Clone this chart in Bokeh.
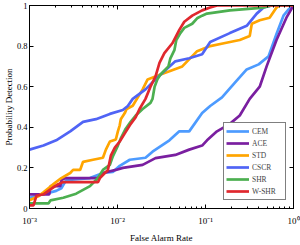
from bokeh.plotting import figure
from bokeh.models import (LogAxis, LinearAxis, FixedTicker, Legend, LegendItem,
                          Range1d)
from bokeh.embed import file_html
from bokeh.resources import INLINE

# ---- data (false alarm rate, probability of detection) ----
cem_x = [0.001, 0.00144, 0.00201, 0.0023, 0.00261, 0.00487, 0.00683, 0.00885, 0.0106, 0.0138,
         0.0208, 0.025, 0.0389, 0.0504, 0.0653, 0.0916, 0.113, 0.154, 0.216, 0.294, 0.402,
         0.521, 0.641, 0.769, 0.875, 1.0]
cem_y = [0.053, 0.07, 0.087, 0.10, 0.14, 0.15, 0.175, 0.18, 0.21, 0.24,
         0.25, 0.28, 0.336, 0.38, 0.38, 0.47, 0.505, 0.547, 0.62, 0.685, 0.71,
         0.75, 0.86, 0.95, 0.98, 1.0]

ace_x = [0.001, 0.00168, 0.00173, 0.00224, 0.0023, 0.00255, 0.006, 0.00683, 0.00957, 0.0115,
         0.0193, 0.027, 0.0454, 0.0653, 0.0916, 0.104, 0.135, 0.189, 0.245, 0.318, 0.413,
         0.495, 0.641, 0.831, 1.0]
ace_y = [0.07, 0.07, 0.11, 0.11, 0.14, 0.15, 0.15, 0.175, 0.19, 0.20,
         0.215, 0.248, 0.264, 0.29, 0.31, 0.336, 0.38, 0.417, 0.458, 0.54, 0.60,
         0.70, 0.83, 0.94, 1.0]

std_x = [0.001, 0.00126, 0.00144, 0.00164, 0.00187, 0.0023, 0.0029, 0.00313, 0.00376, 0.00406,
         0.00527, 0.00683, 0.00738, 0.00819, 0.00957, 0.0101, 0.0106, 0.0109, 0.0121, 0.0127,
         0.0149, 0.0193, 0.022, 0.0308, 0.0389, 0.0545, 0.0803, 0.113, 0.162, 0.245, 0.318,
         0.336, 0.413, 0.535, 0.641, 0.693, 1.0]
std_y = [0.04, 0.06, 0.08, 0.10, 0.12, 0.15, 0.175, 0.19, 0.19, 0.23,
         0.24, 0.25, 0.29, 0.33, 0.34, 0.38, 0.41, 0.44, 0.47, 0.49,
         0.506, 0.587, 0.636, 0.66, 0.676, 0.70, 0.775, 0.80, 0.814, 0.83, 0.85,
         0.91, 0.927, 0.94, 0.99, 1.0, 1.0]

cscr_x = [0.001, 0.00144, 0.00201, 0.0029, 0.00406, 0.00569, 0.00819, 0.0115, 0.0131, 0.0149,
          0.0208, 0.0284, 0.0454, 0.0653, 0.0916, 0.113, 0.189, 0.294, 0.382, 0.458, 0.564, 1.0]
cscr_y = [0.29, 0.31, 0.336, 0.38, 0.427, 0.44, 0.466, 0.485, 0.505, 0.54,
          0.587, 0.645, 0.725, 0.74, 0.76, 0.82, 0.864, 0.90, 0.96, 0.99, 1.0, 1.0]

shr_x = [0.001, 0.00164, 0.00173, 0.00242, 0.00339, 0.00487, 0.006, 0.00683, 0.00819, 0.00885,
         0.0101, 0.0109, 0.0124, 0.0141, 0.0161, 0.0193, 0.0237, 0.025, 0.0264, 0.0284, 0.0308,
         0.0379, 0.0399, 0.0443, 0.0466, 0.0518, 0.0574, 0.0707, 0.0803, 0.0916, 0.104, 0.189,
         0.458, 0.564, 1.0]
shr_y = [0.025, 0.025, 0.04, 0.053, 0.073, 0.11, 0.15, 0.19, 0.215, 0.257,
         0.31, 0.345, 0.393, 0.427, 0.458, 0.49, 0.52, 0.54, 0.60, 0.636, 0.66,
         0.70, 0.74, 0.78, 0.83, 0.864, 0.89, 0.91, 0.937, 0.95, 0.96, 0.976,
         0.99, 1.0, 1.0]

wshr_x = [0.001, 0.00111, 0.0012, 0.00144, 0.00173, 0.00212, 0.00242, 0.006, 0.00631, 0.00778,
          0.0084, 0.00933, 0.0106, 0.0121, 0.0138, 0.0161, 0.0178, 0.0208, 0.0237, 0.027, 0.03,
          0.0341, 0.042, 0.0504, 0.0574, 0.0707, 0.0916, 0.113, 0.135, 1.0]
wshr_y = [0.015, 0.015, 0.063, 0.07, 0.094, 0.12, 0.13, 0.13, 0.15, 0.19,
          0.26, 0.30, 0.33, 0.37, 0.41, 0.45, 0.49, 0.54, 0.60, 0.65, 0.717,
          0.765, 0.814, 0.88, 0.92, 0.95, 0.976, 0.99, 1.0, 1.0]

series_names = ["CEM", "ACE", "STD", "CSCR", "SHR", "W-SHR"]
series_x = [cem_x, ace_x, std_x, cscr_x, shr_x, wshr_x]
series_y = [cem_y, ace_y, std_y, cscr_y, shr_y, wshr_y]
series_colors = ["#4d9bff", "#7a1fa0", "#ffa500", "#5064f5", "#4caf50", "#e0282e"]

x_ticks = [0.001, 0.01, 0.1, 1.0]
x_tick_labels = ["10\u207b\u00b3", "10\u207b\u00b2", "10\u207b\u00b9", "10\u2070"]
y_ticks = [0, 0.2, 0.4, 0.6, 0.8, 1.0]
y_tick_labels = ["0", "0.2", "0.4", "0.6", "0.8", "1"]

FONT = "Liberation Serif"

p = figure(width=300, height=245, x_axis_type="log", output_backend="svg",
           toolbar_location=None, x_range=Range1d(0.001, 1.0), y_range=Range1d(0, 1),
           min_border_left=26, min_border_right=7, min_border_top=5, min_border_bottom=34)
p.xgrid.visible = False
p.ygrid.visible = False
p.outline_line_color = "black"
p.background_fill_color = "white"

minor = [m * 10.0 ** e for e in (-3, -2, -1) for m in range(2, 10)]

renderers = []
for name, xs, ys, c in zip(series_names, series_x, series_y, series_colors):
    r = p.line(xs, ys, line_color=c, line_width=2.7)
    renderers.append(r)

def style_axis(ax, labels=True):
    ax.axis_line_color = "black"
    ax.major_tick_in = 4
    ax.major_tick_out = 0
    ax.minor_tick_in = 2
    ax.minor_tick_out = 0
    ax.major_tick_line_color = "black"
    ax.minor_tick_line_color = "black"
    ax.major_label_text_font = FONT
    ax.major_label_text_font_size = "8.5px"
    ax.major_label_text_color = "black"
    ax.axis_label_text_font = FONT
    ax.axis_label_text_font_size = "9px"
    ax.axis_label_text_font_style = "normal"
    ax.axis_label_text_color = "black"
    if not labels:
        ax.major_label_text_font_size = "1px"
        ax.major_label_text_color = None
        ax.major_label_standoff = 0

xa = p.xaxis[0]
xa.ticker = FixedTicker(ticks=x_ticks, minor_ticks=minor)
xa.major_label_overrides = {t: l for t, l in zip(x_ticks, x_tick_labels)}
xa.axis_label = "False Alarm Rate"
style_axis(xa)
xa.major_label_text_font_size = "9px"
xa.major_label_standoff = 7
xa.axis_label_standoff = 4

ya = p.yaxis[0]
ya.ticker = FixedTicker(ticks=y_ticks)
ya.major_label_overrides = {t: l for t, l in zip(y_ticks, y_tick_labels)}
ya.axis_label = "Probability Detection"
style_axis(ya)
ya.minor_tick_line_color = None
ya.major_label_standoff = 2
ya.axis_label_standoff = 0

top = LogAxis(ticker=FixedTicker(ticks=x_ticks, minor_ticks=minor))
style_axis(top, labels=False)
p.add_layout(top, "above")

right = LinearAxis(ticker=FixedTicker(ticks=y_ticks))
style_axis(right, labels=False)
right.minor_tick_line_color = None
p.add_layout(right, "right")

legend = Legend(items=[LegendItem(label=n, renderers=[r]) for n, r in zip(series_names, renderers)],
                location=(194, 8), margin=0, padding=2, spacing=0,
                glyph_width=23, glyph_height=12, label_height=12, label_standoff=3,
                label_width=31,
                label_text_font=FONT, label_text_font_size="7.5px",
                border_line_color="black", border_line_width=1,
                background_fill_color="white", background_fill_alpha=1.0)
p.add_layout(legend)

open("out.html", "w").write(file_html(p, INLINE))
